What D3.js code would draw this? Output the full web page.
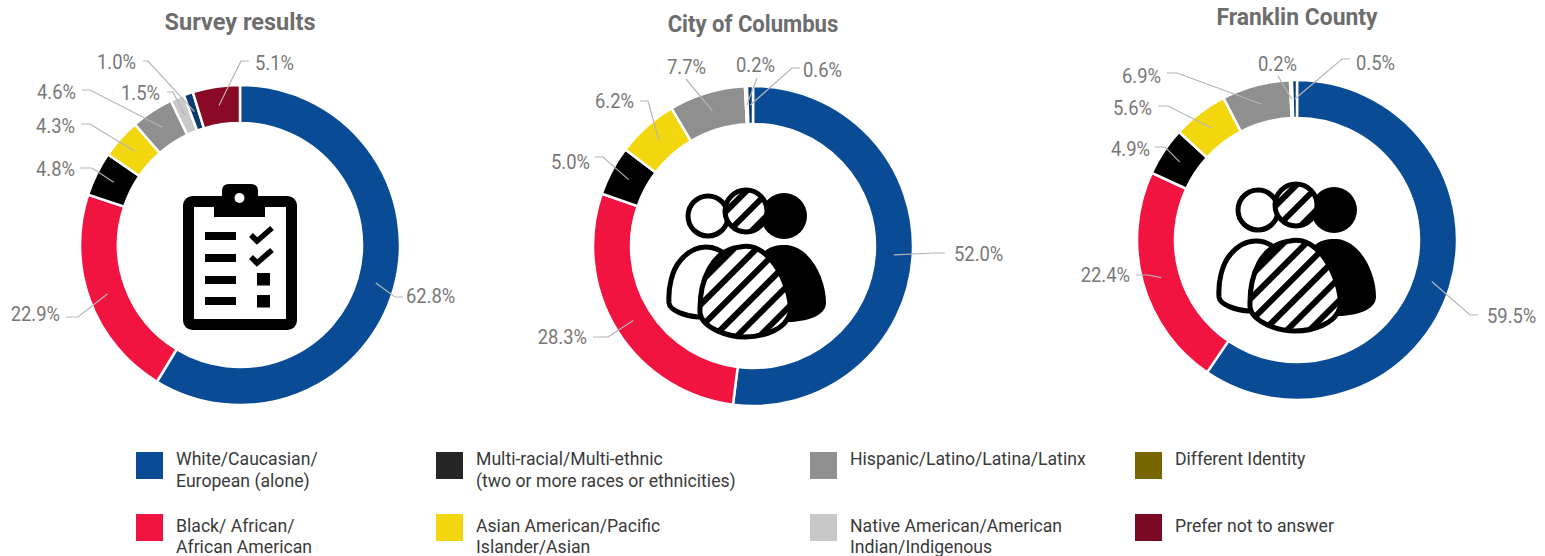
<!DOCTYPE html>
<html>
<head>
<meta charset="utf-8">
<script src="https://cdn.jsdelivr.net/npm/d3@7"></script>
<style>
  html, body { margin: 0; background: #fff; }
  svg { display: block; }
  text { font-family: Roboto, "Noto Sans", sans-serif; }
</style>
</head>
<body>
<svg id="chart" width="1545" height="556"></svg>
<script>
// Share of respondents / residents by racial and ethnic identity
const categories = ["White/Caucasian/European (alone)", "Black/African/African American",
  "Multi-racial/Multi-ethnic", "Asian American/Pacific Islander/Asian",
  "Hispanic/Latino/Latina/Latinx", "Native American/American Indian/Indigenous",
  "Different Identity", "Prefer not to answer"];
const surveyValues   = [62.8, 22.9, 4.8, 4.3, 4.6, 1.5, 1.0, 5.1];
const columbusValues = [52.0, 28.3, 5.0, 6.2, 7.7, 0.2, 0.6, null];
const franklinValues = [59.5, 22.4, 4.9, 5.6, 6.9, 0.2, 0.5, null];

const chartTitles = ["Survey results", "City of Columbus", "Franklin County"];

const sliceColors = ["#0a4b96", "#f21440", "#000000", "#f2d70f", "#8f8f8f", "#c9c9c9", "#0b3a6e", "#8a0a26"];

const legendEntries = [
  { lines: ["White/Caucasian/", "European (alone)"], color: "#0a4b96", col: 0, row: 0 },
  { lines: ["Black/ African/", "African American"], color: "#f21440", col: 0, row: 1 },
  { lines: ["Multi-racial/Multi-ethnic", "(two or more races or ethnicities)"], color: "#262626", col: 1, row: 0 },
  { lines: ["Asian American/Pacific", "Islander/Asian"], color: "#f2d70f", col: 1, row: 1 },
  { lines: ["Hispanic/Latino/Latina/Latinx"], color: "#8f8f8f", col: 2, row: 0 },
  { lines: ["Native American/American", "Indian/Indigenous"], color: "#c8c8c8", col: 2, row: 1 },
  { lines: ["Different Identity"], color: "#776600", col: 3, row: 0 },
  { lines: ["Prefer not to answer"], color: "#7a0a24", col: 3, row: 1 }
];
const legendCols = [136, 436, 810, 1135];
const legendRows = [452, 514];
const legendTextOffset = [13, 17.5];

// Leader routing per slice: elbow x/y, tail end x, text x, text-anchor, baseline y.
const surveyLeaders = [
  [395, 297, 403, 406, "start", 303], [78, 317, 66, 60, "end", 321], [92, 168, 80, 75, "end", 176],
  [90, 124, 81, 75, "end", 133], [90, 90, 82, 76, "end", 99], [173, 92, 167, 160, "end", 100],
  [148, 61, 143, 136, "end", 69], [241, 61, 249, 255, "start", 70]
];
const columbusLeaders = [
  [935, 253, 945, 954, "start", 261], [608, 337, 593, 587, "end", 344], [603, 157, 595, 590, "end", 169],
  [648, 101, 640, 634, "end", 108], [686, 79, 686, 667, "start", 74], [757, 78, 757, 736, "start", 72],
  [792, 68, 800, 803, "start", 77]
];
const franklinLeaders = [
  [1470, 315, 1478, 1487, "start", 323], [1148, 275, 1136, 1130, "end", 282], [1165, 147, 1155, 1150, "end", 156],
  [1168, 106, 1158, 1152, "end", 115], [1177, 73, 1167, 1161, "end", 83], [1278, 76, 1278, 1258, "start", 71],
  [1342, 59, 1350, 1356, "start", 70]
];

const donuts = [
  { title: chartTitles[0], values: surveyValues, leaders: surveyLeaders, cx: 240, cy: 245, titleY: 30, titleFit: 1, icon: "clipboard" },
  { title: chartTitles[1], values: columbusValues, leaders: columbusLeaders, cx: 753, cy: 246, titleY: 32, titleFit: 0.94, icon: "people", ix: 650, iy: 170 },
  { title: chartTitles[2], values: franklinValues, leaders: franklinLeaders, cx: 1297, cy: 240, titleY: 25, titleFit: 0.975, icon: "people", ix: 1200, iy: 164 }
];

const outerR = 160, innerR = 122;
const svg = d3.select("#chart");
const defs = svg.append("defs");

const pie = d3.pie().sort(null).value(d => d.value);
const arc = d3.arc().innerRadius(innerR).outerRadius(outerR);
const hub = d3.arc().innerRadius((innerR + outerR) / 2 - 0.5).outerRadius((innerR + outerR) / 2 + 0.5);

// Narrows a text horizontally so a tall, condensed face is approximated.
function squeeze(sel, factor) {
  const len = sel.node().getComputedTextLength();
  sel.attr("textLength", len * factor).attr("lengthAdjust", "spacingAndGlyphs");
  return sel;
}

donuts.forEach((cfg, chartIndex) => {
  const rows = cfg.values
    .map((value, i) => ({ value, i, category: categories[i] }))
    .filter(d => d.value !== null);
  const slices = pie(rows);
  const g = svg.append("g").attr("class", "donut");

  const heading = g.append("text")
    .attr("x", cfg.cx).attr("y", cfg.titleY)
    .attr("text-anchor", "middle")
    .attr("font-size", 23.5).attr("font-weight", 700)
    .attr("fill", "#6d6d6d")
    .text(cfg.title);
  squeeze(heading, cfg.titleFit);

  g.append("g").attr("transform", `translate(${cfg.cx},${cfg.cy})`)
    .selectAll("path").data(slices).join("path")
    .attr("d", arc)
    .attr("fill", d => sliceColors[d.data.i])
    .attr("stroke", "#fff").attr("stroke-width", 2.5);

  slices.forEach((s, k) => {
    const [mx, my] = hub.centroid(s);
    const [ex, ey, tx, lx, anchor, by] = cfg.leaders[k];
    const path = d3.path();
    path.moveTo(cfg.cx + mx, cfg.cy + my);
    path.lineTo(ex, ey);
    path.lineTo(tx, ey);
    g.append("path").attr("d", path.toString())
      .attr("fill", "none").attr("stroke", "#b5b5b5").attr("stroke-width", 1.2);
    const label = g.append("text")
      .attr("x", lx).attr("y", by).attr("text-anchor", anchor)
      .attr("font-size", 20).attr("fill", "#777")
      .text(s.data.value.toFixed(1) + "%");
    squeeze(label, 0.92);
  });

  if (cfg.icon === "clipboard") drawClipboard(g);
  else drawPeople(g, cfg.ix, cfg.iy, chartIndex);
});

function drawClipboard(g) {
  const icon = g.append("g");
  icon.append("rect").attr("x", 188.5).attr("y", 201.5).attr("width", 103).attr("height", 123)
    .attr("rx", 4).attr("fill", "#fff").attr("stroke", "#000").attr("stroke-width", 11);
  icon.append("path")
    .attr("d", "M214,196H222V191Q222,184 229,184H251Q258,184 258,191V196H265V217H214Z")
    .attr("fill", "#000");
  icon.append("circle").attr("cx", 239.5).attr("cy", 198).attr("r", 5).attr("fill", "#fff");
  [232, 254, 276, 297].forEach(y =>
    icon.append("rect").attr("x", 205).attr("y", y).attr("width", 31).attr("height", 8).attr("fill", "#000"));
  [[235, 241, 228], [257, 263, 250]].forEach(([a, b, c]) =>
    icon.append("path").attr("d", `M251,${a}L257,${b}L272,${c}`)
      .attr("fill", "none").attr("stroke", "#000").attr("stroke-width", 5.5));
  [273, 295].forEach(y =>
    icon.append("rect").attr("x", 257).attr("y", y).attr("width", 13).attr("height", 12.5).attr("fill", "#000"));
}

function drawPeople(g, ox, oy, id) {
  const pid = `stripes${id}`;
  const pat = defs.append("pattern").attr("id", pid)
    .attr("patternUnits", "userSpaceOnUse").attr("width", 16).attr("height", 16)
    .attr("patternTransform", "rotate(45)");
  pat.append("rect").attr("width", 16).attr("height", 16).attr("fill", "#fff");
  pat.append("rect").attr("width", 6).attr("height", 16).attr("fill", "#000");

  const icon = g.append("g").attr("transform", `translate(${ox},${oy})`);
  const line = { stroke: "#000", "stroke-width": 5 };
  const style = (sel, attrs) => { Object.entries(attrs).forEach(([k, v]) => sel.attr(k, v)); return sel; };

  style(icon.append("circle").attr("cx", 58).attr("cy", 46).attr("r", 20).attr("fill", "#fff"), line);
  icon.append("circle").attr("cx", 134).attr("cy", 46).attr("r", 23).attr("fill", "#000");
  style(icon.append("circle").attr("cx", 96).attr("cy", 41).attr("r", 21).attr("fill", `url(#${pid})`), line);

  style(icon.append("path")
    .attr("d", "M48,147C36,146 20,141 19,133C18,118 22,100 30,91C38,81 48,77 56,77C64,77 71,80 77,86L60,146Z")
    .attr("fill", "#fff").attr("stroke-linejoin", "round"), line);
  icon.append("path")
    .attr("d", "M115,81C122,75 130,75 137,75C160,77 176,108 176,133C176,146 155,152 138,152L120,100Z")
    .attr("fill", "#000");
  style(icon.append("path")
    .attr("d", "M90,77C110,72 125,92 132,107C138,120 141,134 140,143C136,160 112,167 95,167C78,167 52,158 50,143C49,110 62,80 90,77Z")
    .attr("fill", `url(#${pid})`), line);
}

// Legend
const legend = svg.append("g").attr("class", "legend");
legendEntries.forEach(entry => {
  const x = legendCols[entry.col], y = legendRows[entry.row];
  legend.append("rect").attr("x", x).attr("y", y).attr("width", 27).attr("height", 27).attr("fill", entry.color);
  entry.lines.forEach((line, i) => {
    const t = legend.append("text")
      .attr("x", x + 40).attr("y", y + legendTextOffset[entry.row] + i * 21.5)
      .attr("font-size", 18).attr("fill", "#3a3a3a")
      .text(line);
    squeeze(t, 0.98);
  });
});
</script>
</body>
</html>
